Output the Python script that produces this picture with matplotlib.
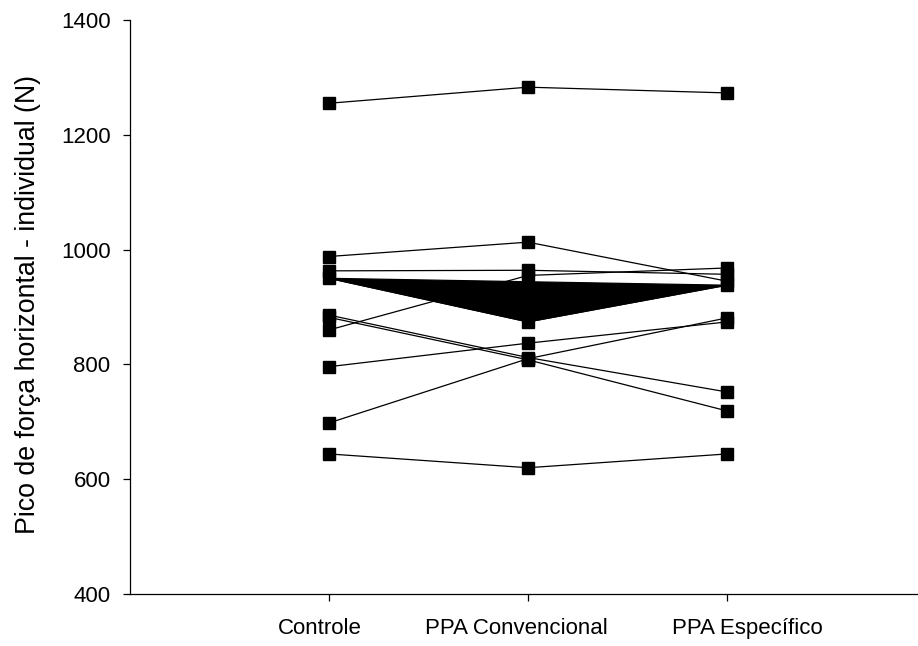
import numpy as np
import matplotlib
matplotlib.use('Agg')
import matplotlib.pyplot as plt
import matplotlib.transforms as mtransforms

# =============================================================================
# Data (one row per subject: Controle, PPA Convencional, PPA Específico)
# =============================================================================

conditions = ['Controle', 'PPA Convencional', 'PPA Específico']

subject_01 = [1255, 1283, 1273]
subject_02 = [988, 1013, 945]
subject_03 = [963, 964, 957]
subject_04 = [860, 955, 968]
subject_05 = [950, 874, 938]   # this one shows up filled in the original
subject_06 = [886, 812, 752]
subject_07 = [882, 808, 719]
subject_08 = [796, 837, 874]
subject_09 = [698, 810, 881]
subject_10 = [644, 620, 644]

subjects = [subject_01, subject_02, subject_03, subject_04, subject_05,
            subject_06, subject_07, subject_08, subject_09, subject_10]

y_ticks = [400, 600, 800, 1000, 1200, 1400]

# =============================================================================
# Plot
# =============================================================================

plt.rcParams['font.family'] = ['Liberation Sans', 'DejaVu Sans']

fig = plt.figure(figsize=(9.18, 6.46), dpi=100)
ax = fig.add_axes([0.1416, 0.0805, 0.867, 0.8885])

x = np.arange(1, len(conditions) + 1)

for s in subjects:
    ax.plot(x, s, color='black', linewidth=0.9, marker='s', markersize=9,
            markerfacecolor='black', markeredgecolor='black', clip_on=False)

# the filled triangle
ax.fill(x, subject_05, color='black', linewidth=0.9)

ax.set_xlim(0, 4)
ax.set_ylim(400, 1400)
ax.set_yticks(y_ticks)
ax.set_xticks(x)
ax.set_xticklabels(conditions)

ax.spines['top'].set_visible(False)
ax.spines['right'].set_visible(False)
ax.spines['left'].set_linewidth(0.9)
ax.spines['bottom'].set_linewidth(0.9)

ax.tick_params(axis='both', direction='out', length=5, width=0.9, labelsize=16)
ax.tick_params(axis='x', pad=12)
ax.tick_params(axis='y', pad=9)

# x labels are not quite centred under the ticks in the original
label_shift_px = [-9, -12, 20]
for lab, dx in zip(ax.get_xticklabels(), label_shift_px):
    offset = mtransforms.ScaledTranslation(dx / 100, 0, fig.dpi_scale_trans)
    lab.set_transform(lab.get_transform() + offset)

ax.set_ylabel('Pico de força horizontal - individual (N)', fontsize=19.3)
ax.yaxis.set_label_coords(-0.112, 0.505)

plt.savefig('out.png', dpi=100)
